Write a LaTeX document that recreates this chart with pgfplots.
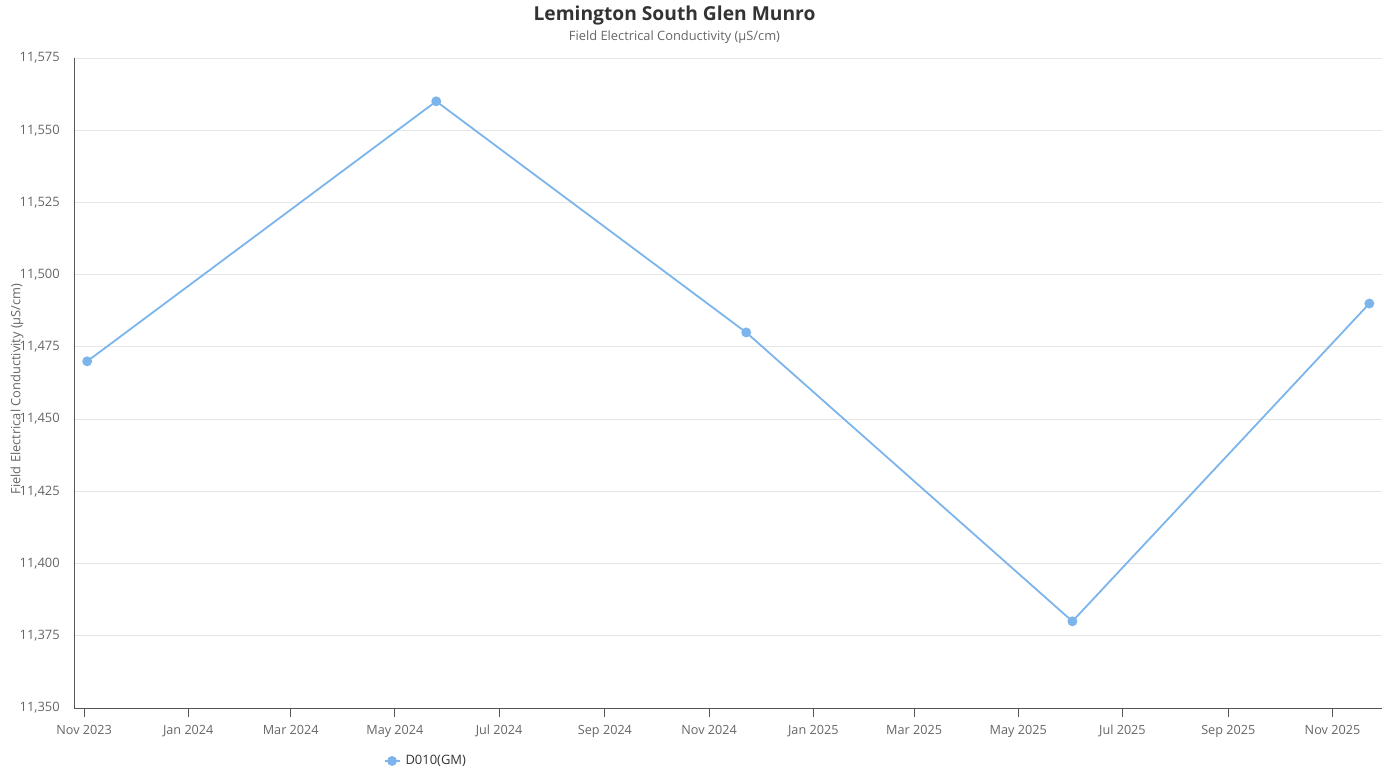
\documentclass[border=0pt]{standalone}
\usepackage{fontspec}
\setmainfont{Open Sans}
\usepackage{pgfplots}
\pgfplotsset{compat=1.18}
\definecolor{hcblue}{HTML}{7CB5EC}
\definecolor{gridc}{HTML}{E6E6E6}
\definecolor{axisc}{HTML}{555555}
\definecolor{labc}{HTML}{666666}
\definecolor{titc}{HTML}{333333}
\begin{document}
\begin{tikzpicture}[x=1bp,y=1bp]
\path[use as bounding box] (0,0) rectangle (1391,771);
\begin{axis}[
  at={(74bp,63bp)}, anchor=south west,
  scale only axis, width=1308bp, height=650bp,
  xmin=-5.9, xmax=760,
  ymin=11350, ymax=11575,
  ytick={11350,11375,...,11575},
  scaled y ticks=false,
  xtick={0,61,121,182,243,305,366,427,486,547,608,670,731},
  xticklabels={Nov 2023,Jan 2024,Mar 2024,May 2024,Jul 2024,Sep 2024,Nov 2024,Jan 2025,Mar 2025,May 2025,Jul 2025,Sep 2025,Nov 2025},
  /pgf/number format/assume math mode=true,
  /pgf/number format/fixed,
  /pgf/number format/precision=0,
  /pgf/number format/1000 sep={,},
  yticklabel style={font=\fontsize{13}{15}\selectfont, text=labc, inner sep=0pt, xshift=-5bp},
  xticklabel style={font=\fontsize{12.7}{15}\selectfont, text=labc, inner sep=0pt, anchor=north, text height=9.3bp, text depth=3bp, yshift=-8bp},
  axis x line*=bottom, axis y line*=left,
  x axis line style={draw=axisc, line width=1bp, -},
  y axis line style={draw=axisc, line width=1bp, -},
  ymajorgrids, grid style={draw=gridc, line width=0.8bp},
  ytick style={draw=none},
  xtick style={draw=axisc, line width=1bp},
  tick align=outside, major tick length=9bp,
  legend style={at={(0.2365,-0.0815)}, anchor=west, draw=none, fill=none,
    font=\fontsize{13}{15}\selectfont, text=titc, inner sep=0pt,
    legend cell align=left},
  legend image code/.code={\draw[hcblue, line width=2bp] (0bp,0bp) -- (15bp,0bp); \fill[hcblue] (7.5bp,0bp) circle (4bp);},
  clip=false,
]
\addplot[hcblue, line width=1.8bp, mark=*, mark size=4bp, mark options={fill=hcblue, draw=none}]
  coordinates {(1.8,11470) (206.2,11560) (387.7,11480) (578.7,11380) (752.6,11490)};
\addlegendentry{\hspace{3bp}D010(GM)}
\end{axis}
\node[font=\fontsize{19.3}{22}\selectfont\bfseries, text=titc] at (674.5,771-16) {Lemington South Glen Munro};
\node[font=\fontsize{12.9}{15}\selectfont, text=labc] at (674.5,771-37) {Field Electrical Conductivity (µS/cm)};
\node[font=\fontsize{12.9}{15}\selectfont, text=labc, rotate=90] at (17,771-389) {Field Electrical Conductivity (µS/cm)};
\end{tikzpicture}
\end{document}
